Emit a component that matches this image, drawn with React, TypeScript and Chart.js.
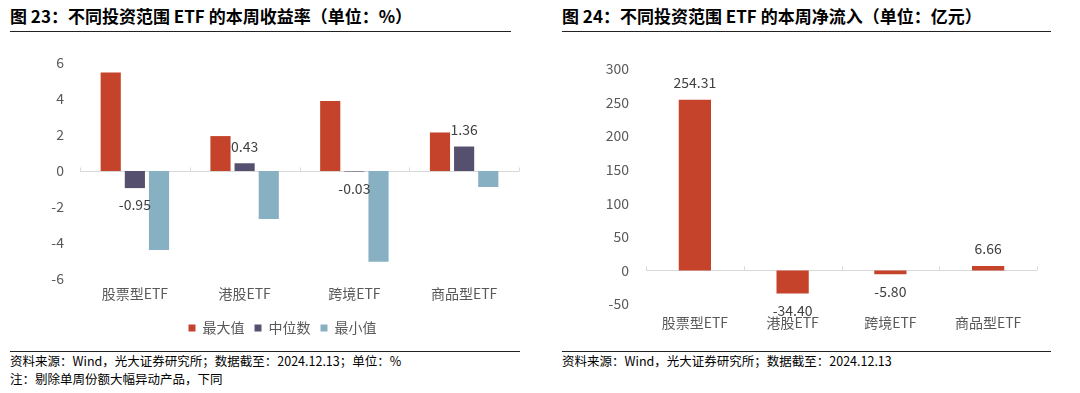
import React, { useEffect, useRef } from "react";
import { Chart, registerables } from "chart.js";

Chart.register(...registerables);

const categories = ["股票型ETF", "港股ETF", "跨境ETF", "商品型ETF"];
const seriesNames = ["最大值", "中位数", "最小值"];
const maxValues = [5.47, 1.94, 3.89, 2.14];
const medianValues = [-0.95, 0.43, -0.03, 1.36];
const minValues = [-4.39, -2.66, -5.04, -0.89];
const returnTicks = [-6, -4, -2, 0, 2, 4, 6];

const inflowValues = [254.31, -34.4, -5.8, 6.66];
const inflowTicks = [-50, 0, 50, 100, 150, 200, 250, 300];

const FONT = "'Noto Sans CJK SC', 'Noto Sans', sans-serif";
const RED = "#C5432A";
const NAVY = "#56506F";
const TEAL = "#88B0C3";
const TICK_COLOR = "#595959";
const LABEL_COLOR = "#404040";

const zeroAxisPlugin = {
  id: "zeroAxis",
  beforeDatasetsDraw(chart: any) {
    const { ctx, chartArea, scales } = chart;
    const y = Math.round(scales.y.getPixelForValue(0)) + 0.5;
    const xs = scales.x;
    ctx.save();
    ctx.strokeStyle = "#d9d9d9";
    ctx.lineWidth = 1;
    ctx.beginPath();
    ctx.moveTo(chartArea.left, y);
    ctx.lineTo(chartArea.right, y);
    const n = chart.data.labels.length;
    for (let i = 0; i <= n; i++) {
      const px = Math.round(xs.getPixelForValue(i - 0.5)) + 0.5;
      ctx.moveTo(px, y - 4);
      ctx.lineTo(px, y);
    }
    ctx.stroke();
    ctx.restore();
  },
};

const makeLabelPlugin = (datasetIndex: number) => ({
  id: "valueLabels" + datasetIndex,
  afterDatasetsDraw(chart: any) {
    const { ctx } = chart;
    const meta = chart.getDatasetMeta(datasetIndex);
    const data = chart.data.datasets[datasetIndex].data as number[];
    ctx.save();
    ctx.font = `14px ${FONT}`;
    ctx.fillStyle = LABEL_COLOR;
    ctx.textAlign = "center";
    ctx.textBaseline = "middle";
    meta.data.forEach((bar: any, i: number) => {
      const v = data[i];
      const y = v >= 0 ? bar.y - 17 : bar.y + 17;
      ctx.fillText(v.toFixed(2), bar.x, y);
    });
    ctx.restore();
  },
});

const noAxisPadding = (s: any) => {
  s.paddingTop = 0;
  s.paddingBottom = 0;
};

function ReturnChart() {
  const ref = useRef<HTMLCanvasElement>(null);
  useEffect(() => {
    const chart = new Chart(ref.current!, {
      type: "bar",
      data: {
        labels: categories,
        datasets: [
          { label: seriesNames[0], data: maxValues, backgroundColor: RED },
          { label: seriesNames[1], data: medianValues, backgroundColor: NAVY },
          { label: seriesNames[2], data: minValues, backgroundColor: TEAL },
        ],
      },
      options: {
        animation: false,
        responsive: false,
        maintainAspectRatio: false,
        layout: { padding: { top: 13, left: 26, right: 23, bottom: 0 } },
        datasets: { bar: { categoryPercentage: 0.66, barPercentage: 0.835 } } as any,
        plugins: {
          legend: {
            position: "bottom",
            labels: {
              boxWidth: 7,
              boxHeight: 7,
              padding: 10,
              color: TICK_COLOR,
              font: { family: FONT, size: 14 },
            },
          },
          tooltip: { enabled: false },
        },
        scales: {
          x: {
            grid: { display: false, drawTicks: false },
            border: { display: false },
            ticks: { color: TICK_COLOR, font: { family: FONT, size: 14 }, padding: 6 },
            afterFit: (s: any) => {
              s.height = 32;
            },
          },
          y: {
            min: -6,
            max: 6,
            grid: { display: false, drawTicks: false },
            border: { display: false },
            ticks: { color: TICK_COLOR, font: { family: FONT, size: 14 }, padding: 16 },
            afterBuildTicks: (s: any) => {
              s.ticks = returnTicks.map((v) => ({ value: v }));
            },
            afterFit: (s: any) => {
              s.width = 34;
              noAxisPadding(s);
            },
          },
        },
      },
      plugins: [zeroAxisPlugin, makeLabelPlugin(1)],
    });
    return () => chart.destroy();
  }, []);
  return <canvas ref={ref} width={522} height={295} style={{ position: "absolute", left: 20, top: 50, width: 522, height: 295 }} />;
}

function InflowChart() {
  const ref = useRef<HTMLCanvasElement>(null);
  useEffect(() => {
    const chart = new Chart(ref.current!, {
      type: "bar",
      data: {
        labels: categories,
        datasets: [{ label: "本周净流入", data: inflowValues, backgroundColor: RED }],
      },
      options: {
        animation: false,
        responsive: false,
        maintainAspectRatio: false,
        layout: { padding: { top: 19, left: 0, right: 43, bottom: 0 } },
        datasets: { bar: { categoryPercentage: 1, barPercentage: 0.33 } } as any,
        plugins: { legend: { display: false }, tooltip: { enabled: false } },
        scales: {
          x: {
            grid: { display: false, drawTicks: false },
            border: { display: false },
            ticks: { color: TICK_COLOR, font: { family: FONT, size: 14 }, padding: 10 },
            afterFit: (s: any) => {
              s.height = 41;
            },
          },
          y: {
            min: -50,
            max: 300,
            grid: { display: false, drawTicks: false },
            border: { display: false },
            ticks: { color: TICK_COLOR, font: { family: FONT, size: 14 }, padding: 17 },
            afterBuildTicks: (s: any) => {
              s.ticks = inflowTicks.map((v) => ({ value: v }));
            },
            afterFit: (s: any) => {
              s.width = 86;
              noAxisPadding(s);
            },
          },
        },
      },
      plugins: [zeroAxisPlugin, makeLabelPlugin(0)],
    });
    return () => chart.destroy();
  }, []);
  return <canvas ref={ref} width={520} height={295} style={{ position: "absolute", left: 560, top: 50, width: 520, height: 295 }} />;
}

const titleStyle: React.CSSProperties = {
  position: "absolute",
  top: 6,
  fontFamily: FONT,
  fontWeight: 700,
  fontSize: 17,
  lineHeight: "20px",
  color: "#000",
  whiteSpace: "nowrap",
};
const ruleStyle: React.CSSProperties = {
  position: "absolute",
  height: 0,
  borderTop: "1.5px solid #222",
};
const noteStyle: React.CSSProperties = {
  position: "absolute",
  fontFamily: FONT,
  fontSize: 12.5,
  lineHeight: "18px",
  color: "#000",
  whiteSpace: "nowrap",
};

export default function App() {
  return (
    <div style={{ position: "fixed", left: 0, top: 0, width: 1080, height: 393, background: "#fff", overflow: "hidden" }}>
      <div style={{ ...titleStyle, left: 10 }}>图 23：不同投资范围 ETF 的本周收益率（单位：%）</div>
      <div style={{ ...ruleStyle, left: 10, width: 501, top: 31 }} />
      <div style={{ ...titleStyle, left: 562 }}>图 24：不同投资范围 ETF 的本周净流入（单位：亿元）</div>
      <div style={{ ...ruleStyle, left: 562, width: 489, top: 31 }} />
      <ReturnChart />
      <InflowChart />
      <div style={{ ...ruleStyle, left: 10, width: 510, top: 351 }} />
      <div style={{ ...noteStyle, left: 10, top: 352 }}>资料来源：Wind，光大证券研究所；数据截至：2024.12.13；单位：%</div>
      <div style={{ ...noteStyle, left: 10, top: 370 }}>注：剔除单周份额大幅异动产品，下同</div>
      <div style={{ ...ruleStyle, left: 562, width: 489, top: 351 }} />
      <div style={{ ...noteStyle, left: 562, top: 352 }}>资料来源：Wind，光大证券研究所；数据截至：2024.12.13</div>
    </div>
  );
}
